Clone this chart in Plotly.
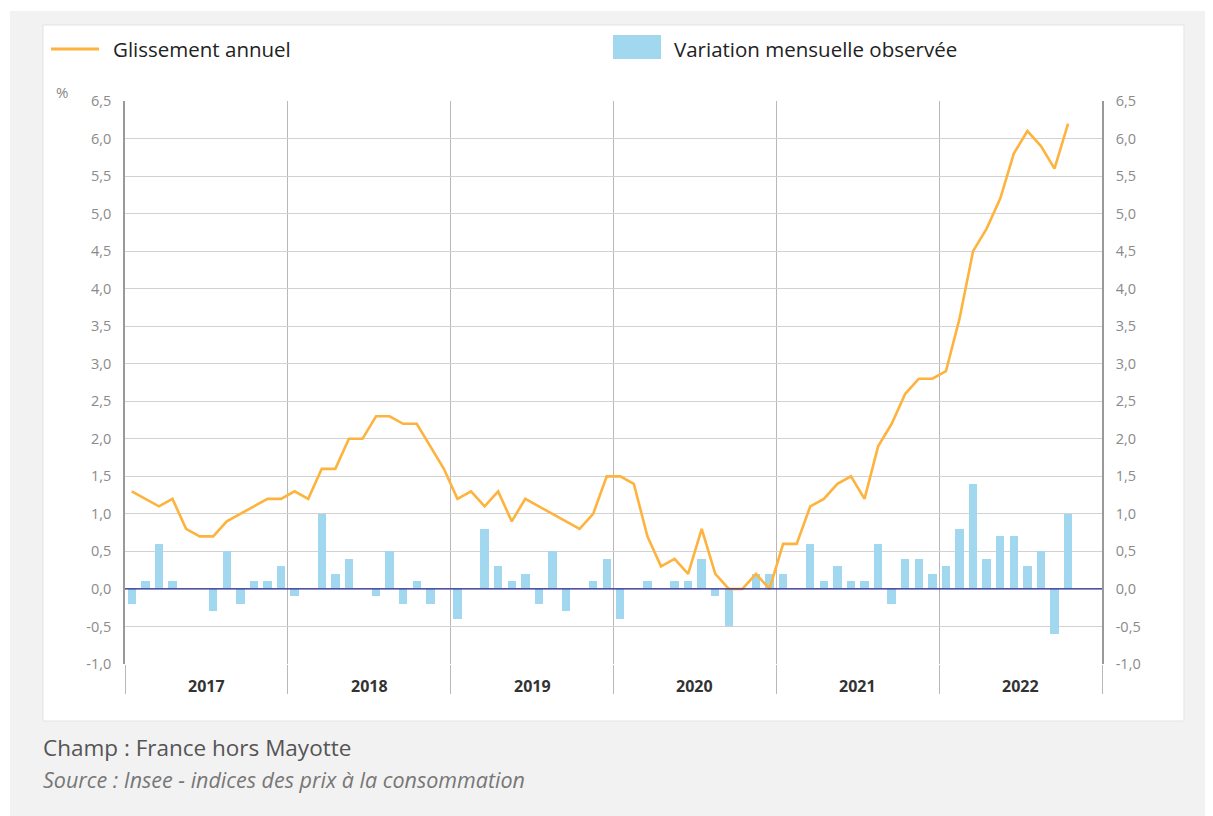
import plotly.graph_objects as go

# ---------------- data ----------------
years = [2017, 2018, 2019, 2020, 2021, 2022]
months = [f"{y}-{m:02d}" for y in years for m in range(1, 13)][:70]

glissement_annuel = [
    1.3, 1.2, 1.1, 1.2, 0.8, 0.7, 0.7, 0.9, 1.0, 1.1, 1.2, 1.2,
    1.3, 1.2, 1.6, 1.6, 2.0, 2.0, 2.3, 2.3, 2.2, 2.2, 1.9, 1.6,
    1.2, 1.3, 1.1, 1.3, 0.9, 1.2, 1.1, 1.0, 0.9, 0.8, 1.0, 1.5,
    1.5, 1.4, 0.7, 0.3, 0.4, 0.2, 0.8, 0.2, 0.0, 0.0, 0.2, 0.0,
    0.6, 0.6, 1.1, 1.2, 1.4, 1.5, 1.2, 1.9, 2.2, 2.6, 2.8, 2.8,
    2.9, 3.6, 4.5, 4.8, 5.2, 5.8, 6.1, 5.9, 5.6, 6.2,
]

variation_mensuelle = [
    -0.2, 0.1, 0.6, 0.1, 0.0, 0.0, -0.3, 0.5, -0.2, 0.1, 0.1, 0.3,
    -0.1, 0.0, 1.0, 0.2, 0.4, 0.0, -0.1, 0.5, -0.2, 0.1, -0.2, 0.0,
    -0.4, 0.0, 0.8, 0.3, 0.1, 0.2, -0.2, 0.5, -0.3, 0.0, 0.1, 0.4,
    -0.4, 0.0, 0.1, 0.0, 0.1, 0.1, 0.4, -0.1, -0.5, 0.0, 0.2, 0.2,
    0.2, 0.0, 0.6, 0.1, 0.3, 0.1, 0.1, 0.6, -0.2, 0.4, 0.4, 0.2,
    0.3, 0.8, 1.4, 0.4, 0.7, 0.7, 0.3, 0.5, -0.6, 1.0,
]

y_tick_values = [-1.0, -0.5, 0.0, 0.5, 1.0, 1.5, 2.0, 2.5, 3.0, 3.5, 4.0, 4.5, 5.0, 5.5, 6.0, 6.5]
y_tick_labels = ["-1,0", "-0,5", "0,0", "0,5", "1,0", "1,5", "2,0", "2,5", "3,0", "3,5",
                 "4,0", "4,5", "5,0", "5,5", "6,0", "6,5"]

# ---------------- layout geometry (screen pixels) ----------------
OFF = 8                      # default page body margin
WIN_W, WIN_H = 1213, 816
W, H = WIN_W - OFF, WIN_H - OFF
L, R, T, B = 125, 1102, 101, 664   # plot area in screen pixels
FONT = "Open Sans"
ORANGE = "#FDB33E"
BLUE = "#A2D8EF"


def px(x):
    return (x - L) / (R - L)


def py(y):
    return (B - y) / (B - T)


# month positions: index i centred in its month slot
x_pos = [i + 0.5 for i in range(len(months))]
n_slots = 12 * len(years)
year_bounds = [12 * k for k in range(len(years) + 1)]
year_centers = [12 * k + 6 for k in range(len(years))]

fig = go.Figure()
fig.add_trace(go.Bar(
    x=x_pos, y=variation_mensuelle, name="Variation mensuelle observée",
    marker=dict(color=BLUE, line=dict(width=0)), width=0.62,
    yaxis="y", showlegend=False,
))
fig.add_trace(go.Scatter(
    x=x_pos, y=glissement_annuel, name="Glissement annuel", mode="lines",
    line=dict(color=ORANGE, width=2.6), yaxis="y2", showlegend=False,
))

shapes = [
    # gray outer panel
    dict(type="rect", xref="paper", yref="paper", x0=px(10), x1=px(1214), y0=py(11), y1=py(817),
         fillcolor="#F2F2F2", line=dict(width=0), layer="below"),
    # white card
    dict(type="rect", xref="paper", yref="paper", x0=px(43), x1=px(1184), y0=py(25), y1=py(721),
         fillcolor="white", line=dict(color="#E3E3E3", width=1), layer="below"),
    # zero line
    dict(type="line", xref="x", yref="y", x0=0, x1=n_slots, y0=0, y1=0,
         line=dict(color="#27278F", width=1.3), layer="above"),
    # legend swatches
    dict(type="line", xref="paper", yref="paper", x0=px(51), x1=px(99), y0=py(49), y1=py(49),
         line=dict(color=ORANGE, width=3)),
    dict(type="rect", xref="paper", yref="paper", x0=px(613), x1=px(661), y0=py(35), y1=py(59),
         fillcolor=BLUE, line=dict(width=0)),
]

annotations = [
    dict(text="Glissement annuel", xref="paper", yref="paper", x=px(111), y=py(49),
         xanchor="left", yanchor="middle", showarrow=False, font=dict(size=20.5, color="#222", family=FONT)),
    dict(text="Variation mensuelle observée", xref="paper", yref="paper", x=px(672), y=py(49),
         xanchor="left", yanchor="middle", showarrow=False, font=dict(size=20.5, color="#222", family=FONT)),
    dict(text="%", xref="paper", yref="paper", x=px(62), y=py(92),
         xanchor="center", yanchor="middle", showarrow=False, font=dict(size=15, color="#888", family=FONT)),
    dict(text="Champ : France hors Mayotte", xref="paper", yref="paper", x=px(41), y=py(747),
         xanchor="left", yanchor="middle", showarrow=False, font=dict(size=22.5, color="#555", family=FONT)),
    dict(text="<i>Source : Insee - indices des prix à la consommation</i>", xref="paper", yref="paper",
         x=px(41), y=py(779), xanchor="left", yanchor="middle", showarrow=False,
         font=dict(size=21.5, color="#777", family=FONT)),
]
for yr, c in zip(years, year_centers):
    annotations.append(dict(text=f"<b>{yr}</b>", xref="x", yref="paper", x=c, y=py(686),
                            xanchor="center", yanchor="middle", showarrow=False,
                            font=dict(size=16, color="#333", family=FONT)))

axis_y_common = dict(
    range=[-1.0, 6.5], tickvals=y_tick_values, ticktext=y_tick_labels,
    tickfont=dict(size=14.5, color="#8A8A8A", family=FONT),
    ticks="outside", ticklen=9, tickcolor="rgba(0,0,0,0)",
    showline=True, linecolor="#999999", linewidth=1.6, zeroline=False, fixedrange=True,
)

fig.update_layout(
    width=W, height=H,
    margin=dict(l=L - OFF, r=WIN_W - R, t=T - OFF, b=WIN_H - B, pad=0),
    paper_bgcolor="white", plot_bgcolor="white",
    font=dict(family=FONT),
    bargap=0,
    xaxis=dict(
        range=[0, n_slots], tickvals=year_bounds, showticklabels=False,
        ticks="outside", ticklen=29, tickcolor="#B8B8B8", tickwidth=1.3,
        showgrid=True, gridcolor="#B8B8B8", gridwidth=1.3,
        showline=False, zeroline=False, fixedrange=True,
    ),
    yaxis=dict(**axis_y_common, side="left", showgrid=True, gridcolor="#D2D2D2", gridwidth=1.3),
    yaxis2=dict(**axis_y_common, side="right", overlaying="y", anchor="x", showgrid=False),
    shapes=shapes,
    annotations=annotations,
    showlegend=False,
)

fig.write_html("out.html")
